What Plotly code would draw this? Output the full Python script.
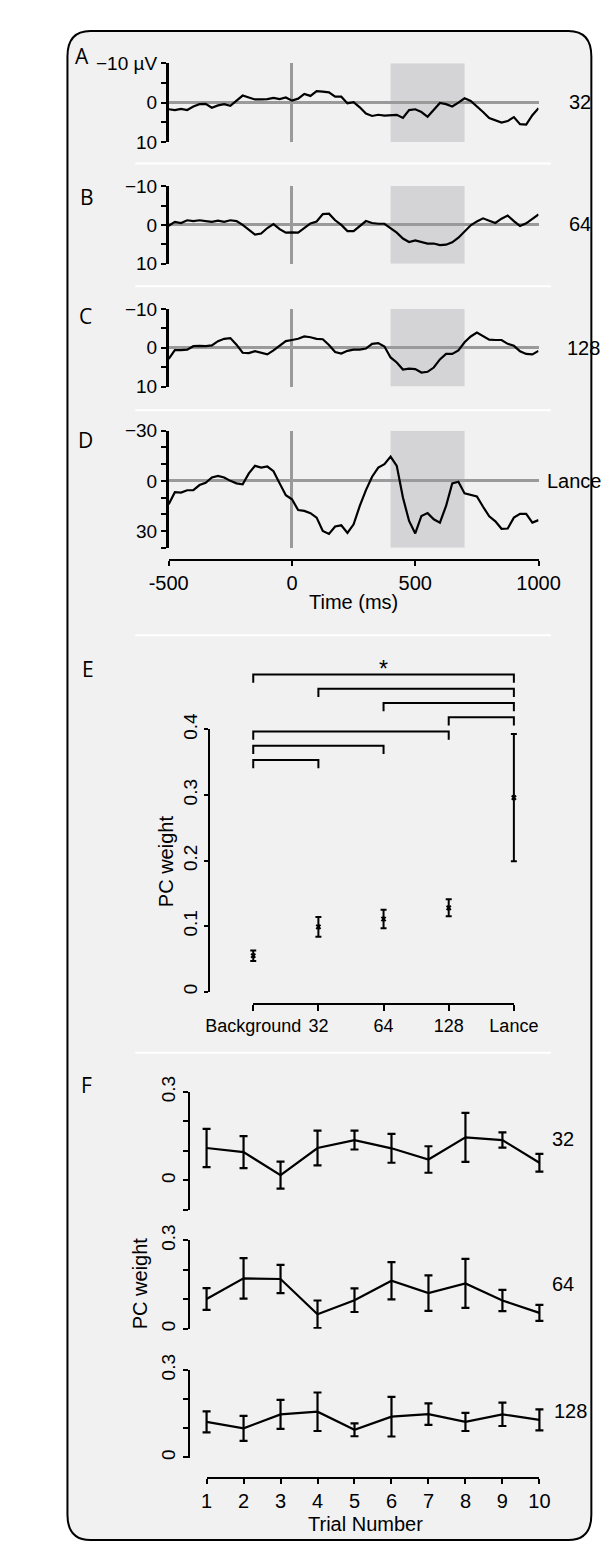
import plotly.graph_objects as go

W, H = 611, 1545


def fx(p):
    return p / W


def fy(p):
    return 1 - p / H


FONT = "Liberation Sans, Arial, Helvetica, sans-serif"
LETTER_FONT = "Open Sans, Noto Sans, sans-serif"
BG = "#f1f1f1"
SHADE = "#d4d4d6"
REF = "#9a9a9a"
TXT = 20

# ---------------- data ----------------
time_ms = list(range(-500, 1001, 25))

erp_32 = [1.7, 1.9, 1.6, 1.9, 1.0, 0.4, 0.3, 1.3, 0.7, 0.4,
          0.8, -0.4, -1.8, -1.3, -0.8, -0.8, -0.9, -1.2, -0.9, -1.3,
          -0.5, -1.0, -2.2, -1.7, -2.9, -2.8, -2.6, -1.5, -1.5, 0.2,
          -0.1, 1.2, 2.8, 3.4, 3.1, 3.3, 3.2, 3.1, 3.9, 1.9,
          1.7, 2.4, 3.6, 1.7, 0.1, 0.4, 1.0, 0.0, -1.1, -0.4,
          0.9, 2.4, 3.9, 4.6, 5.1, 4.7, 3.7, 5.5, 5.6, 3.2, 1.4]

erp_64 = [0.2, -0.8, -0.5, -1.2, -1.0, -1.2, -1.0, -0.8, -1.1, -0.8,
          -1.2, -1.0, 0.0, 1.3, 2.5, 2.2, 0.8, -0.2, 1.1, 2.0,
          1.9, 2.0, 0.9, -0.4, -0.9, -2.8, -2.9, -1.2, 0.0, 1.6,
          1.6, 0.3, -1.0, -0.5, -0.3, -0.3, 0.8, 2.0, 3.5, 4.4,
          4.0, 4.4, 4.8, 4.8, 5.2, 5.1, 4.5, 3.3, 1.7, 0.1,
          -0.9, -1.7, -1.1, -0.5, -1.6, -2.4, -1.0, 0.3, -0.4, -1.5, -2.7]

erp_128 = [2.9, 0.6, 0.6, 0.5, -0.4, -0.5, -0.4, -0.6, -1.7, -2.3,
           -2.5, -0.8, 1.3, 1.4, 0.9, 1.4, 1.7, 0.7, -0.5, -1.7,
           -2.0, -2.3, -2.9, -2.7, -2.3, -2.2, -0.7, 1.1, 1.5, 0.8,
           0.5, 0.5, 0.2, -1.0, -1.2, -0.3, 2.5, 3.8, 5.6, 5.4,
           5.5, 6.4, 6.2, 5.1, 3.0, 1.6, 1.6, 0.7, -1.4, -2.9,
           -3.9, -3.1, -2.1, -2.0, -2.0, -1.0, -0.5, 0.9, 1.6, 1.7, 0.8]

erp_lance = [14.0, 6.8, 7.0, 5.6, 5.5, 2.5, 1.2, -2.0, -3.0, -2.0,
             0.0, 1.5, 2.0, -4.5, -9.0, -8.0, -8.6, -5.8, 1.5, 8.6,
             11.0, 17.5, 18.0, 19.3, 22.0, 30.0, 31.8, 27.3, 26.6, 31.2,
             26.0, 15.0, 5.5, -2.5, -8.0, -10.0, -14.5, -9.0, 10.0, 24.0,
             31.5, 21.0, 19.3, 23.0, 25.0, 15.0, 1.5, 0.5, 7.5, 8.3,
             9.3, 15.5, 21.2, 24.2, 28.7, 28.5, 22.0, 19.7, 19.8, 25.0, 23.5]

erp_names = ["32", "64", "128", "Lance"]
window_ms = [400, 700]

cond_labels = ["Background", "32", "64", "128", "Lance"]
pc_mean = [0.055, 0.099, 0.111, 0.128, 0.296]
pc_err = [0.008, 0.015, 0.014, 0.013, 0.097]
sig_pairs = [(0, 1), (0, 2), (0, 3), (3, 4), (2, 4), (1, 4), (0, 4)]

trials = list(range(1, 11))
pc32_mean = [0.110, 0.096, 0.018, 0.110, 0.137, 0.109, 0.071, 0.146, 0.137, 0.060]
pc32_err = [0.065, 0.054, 0.046, 0.059, 0.032, 0.049, 0.045, 0.083, 0.026, 0.030]
pc64_mean = [0.101, 0.171, 0.169, 0.049, 0.097, 0.163, 0.121, 0.154, 0.096, 0.054]
pc64_err = [0.037, 0.069, 0.048, 0.047, 0.040, 0.063, 0.060, 0.083, 0.036, 0.027]
pc128_mean = [0.122, 0.100, 0.148, 0.157, 0.095, 0.140, 0.149, 0.122, 0.148, 0.129]
pc128_err = [0.036, 0.043, 0.050, 0.066, 0.022, 0.068, 0.037, 0.031, 0.040, 0.036]

# ---------------- figure ----------------
fig = go.Figure()
layout = dict(
    width=W, height=H, margin=dict(l=0, r=0, t=0, b=0),
    paper_bgcolor="white", plot_bgcolor="rgba(0,0,0,0)", showlegend=False,
    font=dict(family=FONT, size=TXT, color="black"),
)
shapes = []
annotations = []


def ann(text, x, y, size=TXT, family=FONT, xanchor="center", angle=0, xref="paper"):
    annotations.append(dict(text=text, x=x, y=y, xref=xref, yref="paper", showarrow=False,
                            xanchor=xanchor, yanchor="middle", textangle=angle,
                            font=dict(family=family, size=size, color="black")))


# background rounded panel
L, T, R, B, r = 13, 7, 608, 1543, 26
path = (f"M {fx(L + r)},{fy(T)} L {fx(R - r)},{fy(T)} Q {fx(R)},{fy(T)} {fx(R)},{fy(T + r)} "
        f"L {fx(R)},{fy(B - r)} Q {fx(R)},{fy(B)} {fx(R - r)},{fy(B)} "
        f"L {fx(L + r)},{fy(B)} Q {fx(L)},{fy(B)} {fx(L)},{fy(B - r)} "
        f"L {fx(L)},{fy(T + r)} Q {fx(L)},{fy(T)} {fx(L + r)},{fy(T)} Z")
shapes.append(dict(type="path", path=path, xref="paper", yref="paper", layer="below",
                   fillcolor=BG, line=dict(color="black", width=2)))
for sy in [142, 267, 393, 622, 1047]:
    shapes.append(dict(type="line", xref="paper", yref="paper", layer="below",
                       x0=fx(90), x1=fx(562), y0=fy(sy), y1=fy(sy),
                       line=dict(color="white", width=2)))

# ---------------- panels A-D ----------------
erp_series = [erp_32, erp_64, erp_128, erp_lance]
erp_geom = [(40, 120), (165, 244), (290, 369), (414, 533)]
erp_ranges = [[10, -10], [10, -10], [10, -10], [40, -30]]
erp_ticks = [
    ([-10, -5, 0, 5, 10], ["\u221210 \u00b5V", "", "0", "", "10"]),
    ([-10, -5, 0, 5, 10], ["\u221210", "", "0", "", "10"]),
    ([-10, -5, 0, 5, 10], ["\u221210", "", "0", "", "10"]),
    ([-30, -20, -10, 0, 10, 20, 30, 40], ["\u221230", "", "", "0", "", "", "30", ""]),
]
erp_label_pos = [(580, 79), (580, 204), (578, 330), (555, 465)]

for i, vals in enumerate(erp_series):
    s = "" if i == 0 else str(i + 1)
    fig.add_trace(go.Scatter(x=time_ms, y=vals, mode="lines",
                             line=dict(color="black", width=2.2),
                             xaxis=f"x{s}", yaxis=f"y{s}", hoverinfo="skip"))
    top, bot = erp_geom[i]
    layout[f"xaxis{s}"] = dict(domain=[fx(128), fx(548)], range=[-500, 1000], anchor=f"y{s}",
                               showline=False, showticklabels=False, ticks="", showgrid=False,
                               zeroline=True, zerolinecolor=REF, zerolinewidth=2.5, tickangle=0)
    tv, tt = erp_ticks[i]
    layout[f"yaxis{s}"] = dict(domain=[fy(bot), fy(top)], range=erp_ranges[i], anchor=f"x{s}",
                               showline=True, linecolor="black", linewidth=2.5,
                               ticks="outside", ticklen=5, tickwidth=2, tickcolor="black",
                               tickvals=tv, ticktext=tt, showgrid=False,
                               zeroline=True, zerolinecolor=REF, zerolinewidth=2.5,
                               tickfont=dict(size=19))
    shapes.append(dict(type="rect", xref=f"x{s}", yref=f"y{s}", layer="below",
                       x0=window_ms[0], x1=window_ms[1],
                       y0=erp_ranges[i][0], y1=erp_ranges[i][1],
                       fillcolor=SHADE, line=dict(width=0)))
    lx, ly = erp_label_pos[i]
    ann(erp_names[i], fx(lx), fy(ly), xanchor="left")

layout["xaxis4"].update(anchor="free", position=fy(546), showline=True, linecolor="black",
                        linewidth=2, ticks="outside", ticklen=5, tickwidth=2, tickcolor="black",
                        showticklabels=True, tickvals=[-500, 0, 500, 1000],
                        ticktext=["-500", "0", "500", "1000"], tickfont=dict(size=TXT))
ann("Time (ms)", fx(338), fy(588))

for letter, (lx, ly) in zip("ABCDEF", [(29, 33), (35, 176), (33, 297), (34, 423), (36, 656), (35, 1080)]):
    ann(letter, fx(lx), fy(ly), size=21, family=LETTER_FONT)

# ---------------- panel E ----------------
e_unit = 74.0
fig.add_trace(go.Scatter(x=list(range(len(cond_labels))), y=pc_mean, mode="markers",
                         marker=dict(symbol="x", size=5, color="black"),
                         error_y=dict(type="data", array=pc_err, color="black", thickness=2, width=3),
                         xaxis="x5", yaxis="y5", hoverinfo="skip"))
fig.add_trace(go.Scatter(x=[None], y=[None], xaxis="x6", yaxis="y5", hoverinfo="skip"))
layout["xaxis5"] = dict(domain=[fx(214), fx(530)], range=[-10 / e_unit, 4 + 10 / e_unit],
                        anchor="y5", visible=False)
layout["xaxis6"] = dict(domain=[fx(224), fx(520)], range=[0, 4], anchor="free", position=fy(997),
                        showline=True, linecolor="black", linewidth=2, ticks="outside",
                        ticklen=6, tickwidth=2, tickcolor="black", showgrid=False, zeroline=False,
                        tickvals=list(range(len(cond_labels))), ticktext=cond_labels,
                        tickangle=0, tickfont=dict(size=18))
layout["yaxis5"] = dict(domain=[fy(985), fy(718)], range=[0, 0.4], anchor="free", position=fx(174),
                        showline=True, linecolor="black", linewidth=1.5, ticks="outside",
                        ticklen=4, tickwidth=1.5, tickcolor="black", showgrid=False, zeroline=False,
                        tickvals=[0, 0.1, 0.2, 0.3, 0.4], ticktext=["0", "0.1", "0.2", "0.3", "0.4"],
                        tickangle=-90, tickfont=dict(size=19))
ann("PC weight", fx(125), fy(852), angle=-90)

br_base, br_step, br_leg = 749, 14.5, 8.5
for k, (a, b) in enumerate(sig_pairs):
    ytop = br_base - k * br_step
    shapes.append(dict(type="path", xref="x5", yref="paper",
                       path=f"M {a},{fy(ytop + br_leg)} L {a},{fy(ytop)} L {b},{fy(ytop)} L {b},{fy(ytop + br_leg)}",
                       line=dict(color="black", width=2)))
top_pair = sig_pairs[-1]
ann("*", (top_pair[0] + top_pair[1]) / 2, fy(br_base - (len(sig_pairs) - 1) * br_step - 6),
    size=23, xref="x5")

# ---------------- panel F ----------------
f_unit = 42.0
f_series = [(pc32_mean, pc32_err, "32"), (pc64_mean, pc64_err, "64"), (pc128_mean, pc128_err, "128")]
f_geom = [(1087, 1207), (1238, 1328), (1370, 1459)]
f_ranges = [[-0.1, 0.3], [0, 0.3], [0, 0.3]]
f_label_pos = [(561, 1135), (561, 1282), (563, 1412)]
for j, (m, e, name) in enumerate(f_series):
    n = 7 + j
    fig.add_trace(go.Scatter(x=trials, y=m, mode="lines", line=dict(color="black", width=2.2),
                             error_y=dict(type="data", array=e, color="black", thickness=2.2, width=4),
                             xaxis=f"x{n}", yaxis=f"y{n}", hoverinfo="skip"))
    layout[f"xaxis{n}"] = dict(domain=[fx(161), fx(559)], range=[1 - 10 / f_unit, 10 + 10 / f_unit],
                               anchor=f"y{n}", visible=False)
    top, bot = f_geom[j]
    lo, hi = f_ranges[j]
    tv = [round(lo + 0.1 * q, 1) for q in range(int(round((hi - lo) / 0.1)) + 1)]
    tt = ["0" if v == 0 else ("0.3" if v == 0.3 else "") for v in tv]
    layout[f"yaxis{n}"] = dict(domain=[fy(bot), fy(top)], range=f_ranges[j], anchor="free",
                               position=fx(151), showline=True, linecolor="black", linewidth=2,
                               ticks="outside", ticklen=5, tickwidth=2, tickcolor="black",
                               showgrid=False, zeroline=False, tickvals=tv, ticktext=tt,
                               tickangle=-90, tickfont=dict(size=19))
    lx, ly = f_label_pos[j]
    ann(name, fx(lx), fy(ly), xanchor="left")

fig.add_trace(go.Scatter(x=[None], y=[None], xaxis="x10", yaxis="y9", hoverinfo="skip"))
layout["xaxis10"] = dict(domain=[fx(171), fx(549)], range=[1, 10], anchor="free", position=fy(1480),
                         showline=True, linecolor="black", linewidth=2, ticks="outside", ticklen=5,
                         tickwidth=2, tickcolor="black", showgrid=False, zeroline=False,
                         tickvals=trials, ticktext=[str(t) for t in trials], tickangle=0,
                         tickfont=dict(size=TXT))
ann("Trial Number", fx(351), fy(1527))
ann("PC weight", fx(95), fy(1282), angle=-90)

layout["shapes"] = shapes
layout["annotations"] = annotations
fig.update_layout(**layout)
fig.write_html("out.html")
